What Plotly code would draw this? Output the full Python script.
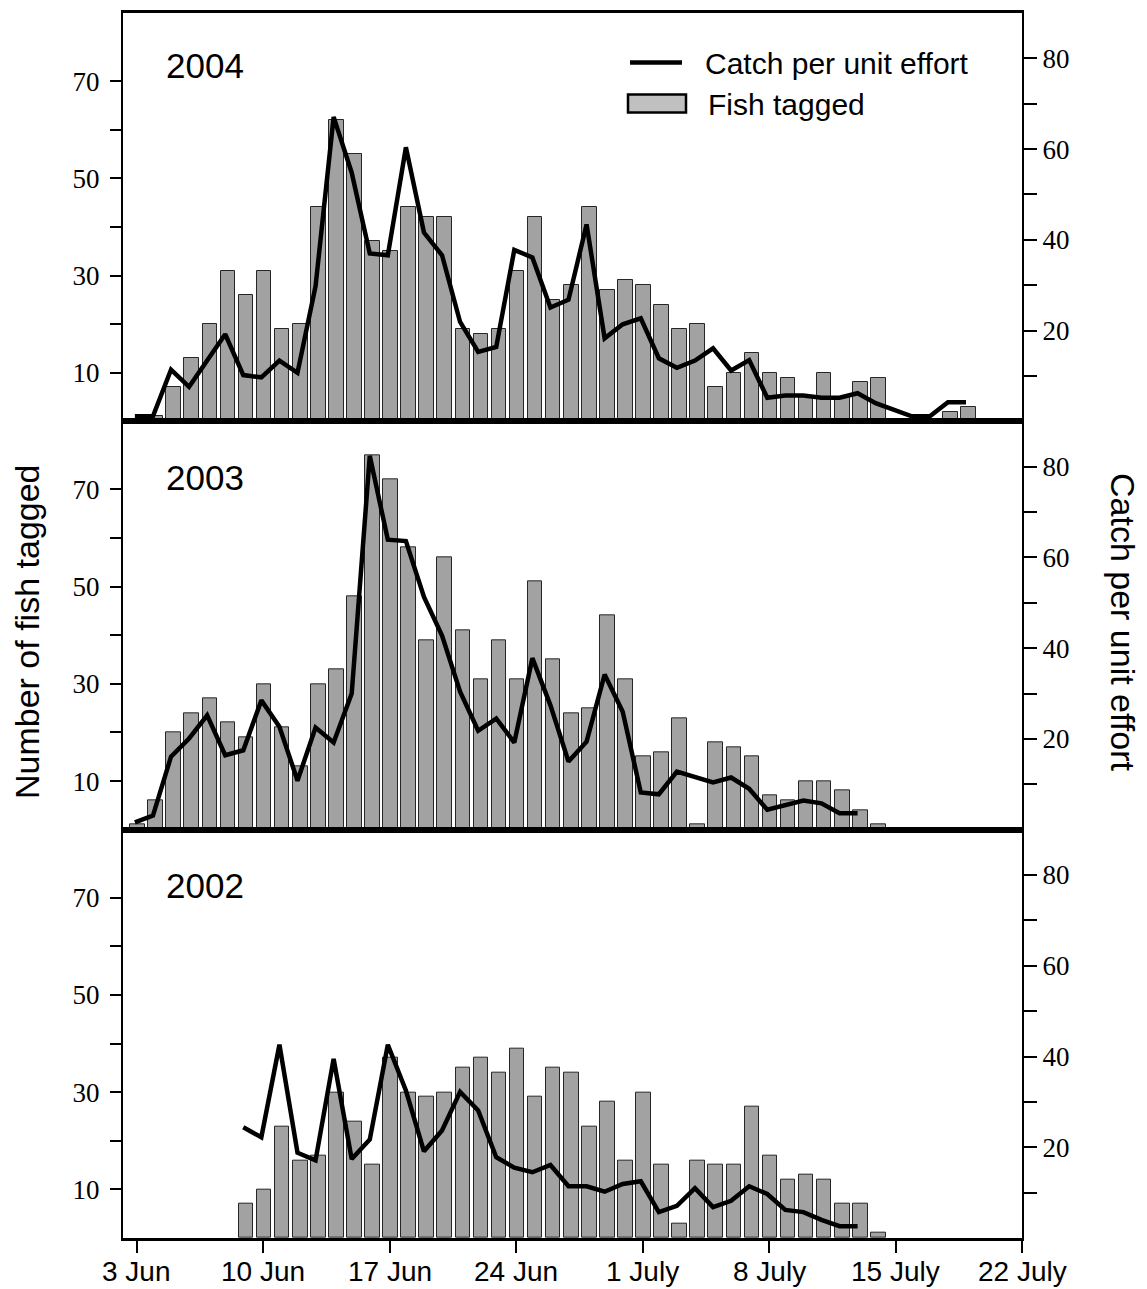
import numpy as np
import pandas as pd
import plotly.graph_objects as go
from plotly.subplots import make_subplots

# ---------------- data ----------------
years = [2004, 2003, 2002]
tick_labels = ["3 Jun", "10 Jun", "17 Jun", "24 Jun", "1 July", "8 July", "15 July", "22 July"]
tick_dates = ["06-03", "06-10", "06-17", "06-24", "07-01", "07-08", "07-15", "07-22"]
season_start = "06-03"

# first day of each record (month-day)
start_2004 = "06-03"
start_2003 = "06-03"
start_2002 = "06-09"

tagged_2004 = [0, 1, 7, 13, 20, 31, 26, 31, 19, 20, 44, 62, 55, 37, 35, 44, 42, 42, 19, 18,
               19, 31, 42, 25, 28, 44, 27, 29, 28, 24, 19, 20, 7, 10, 14, 10, 9, 5, 10, 5,
               8, 9, 0, 0, 0, 2, 3]
cpue_2004 = [1.1, 1.1, 11.4, 7.6, 13.4, 19.2, 10.2, 9.7, 13.4, 10.7, 29.8, 67.1, 54.8, 37.0,
             36.6, 60.4, 41.6, 36.6, 21.9, 15.3, 16.4, 37.8, 36.1, 25.1, 26.8, 43.4, 18.3,
             21.4, 22.7, 13.9, 11.8, 13.4, 16.1, 11.2, 13.5, 5.2, 5.7, 5.7, 5.2, 5.2, 6.2,
             4.0, None, 1.1, 1.1, 4.2, 4.2]

tagged_2003 = [1, 6, 20, 24, 27, 22, 19, 30, 21, 13, 30, 33, 48, 77, 72, 58, 39, 56, 41, 31,
               39, 31, 51, 35, 24, 25, 44, 31, 15, 16, 23, 1, 18, 17, 15, 7, 6, 10, 10, 8,
               4, 1]
cpue_2003 = [1.6, 3.1, 16.1, 20.1, 25.2, 16.4, 17.5, 28.5, 22.7, 10.8, 22.5, 19.2, 30.0,
             82.4, 63.9, 63.6, 51.3, 42.8, 30.4, 21.8, 24.5, 19.2, 37.8, 27.4, 15.0, 19.4,
             34.2, 26.0, 8.2, 7.8, 12.8, 11.7, 10.4, 11.5, 9.0, 4.4, 5.5, 6.4, 5.8, 3.6, 3.6]

tagged_2002 = [7, 10, 23, 16, 17, 30, 24, 15, 37, 30, 29, 30, 35, 37, 34, 39, 29, 35, 34, 23,
               28, 16, 30, 15, 3, 16, 15, 15, 27, 17, 12, 13, 12, 7, 7, 1]
cpue_2002 = [24.4, 22.2, 42.6, 18.8, 17.1, 39.5, 17.4, 21.7, 42.6, 32.5, 19.1, 23.7, 32.2,
             28.1, 17.8, 15.5, 14.5, 16.1, 11.4, 11.4, 10.2, 11.9, 12.5, 5.7, 7.1, 11.0,
             6.8, 8.2, 11.4, 9.7, 6.2, 5.7, 4.0, 2.6, 2.6]

series = {
    2004: (start_2004, tagged_2004, cpue_2004),
    2003: (start_2003, tagged_2003, cpue_2003),
    2002: (start_2002, tagged_2002, cpue_2002),
}

# ---------------- helpers ----------------
def day_offset(md):
    ref = pd.Timestamp("2000-" + season_start)
    return (pd.Timestamp("2000-" + md) - ref).days

tick_vals = [day_offset(d) for d in tick_dates]

BAR_SHIFT = 0.05
LINE_SHIFT = -0.1

W, H = 1147, 1289
L, R, T, B = 123, 125, 13, 51
PW, PH = W - L - R, H - T - B


def px_x(px):
    return (px - L) / PW


def px_y(py):
    return (H - B - py) / PH


fig = make_subplots(rows=3, cols=1, shared_xaxes=True, vertical_spacing=0,
                    specs=[[{"secondary_y": True}]] * 3)

for i, yr in enumerate(years):
    row = i + 1
    start, tagged, cpue = series[yr]
    s = day_offset(start)
    xb = np.arange(len(tagged)) + s + BAR_SHIFT
    xl = np.arange(len(cpue)) + s + LINE_SHIFT
    fig.add_trace(go.Bar(x=xb, y=tagged, width=0.81, name="Fish tagged",
                         marker=dict(color="#a2a2a2", line=dict(color="#262626", width=1))),
                  row=row, col=1, secondary_y=False)
    fig.add_trace(go.Scatter(x=xl, y=cpue, mode="lines", name="Catch per unit effort",
                             connectgaps=True,
                             line=dict(color="black", width=4.5)),
                  row=row, col=1, secondary_y=True)

sans = "Liberation Sans, Arial, sans-serif"
serif = "Liberation Serif, Times New Roman, serif"

fig.update_xaxes(domain=[0, 1], range=[-0.758, 49.0], showline=True, linewidth=3,
                 linecolor="black", mirror=True, showgrid=False, zeroline=False, ticks="",
                 showticklabels=False, automargin=False)
fig.update_xaxes(row=3, col=1, ticks="outside", ticklen=12, tickwidth=2,
                 tickcolor="black", tickvals=tick_vals, showticklabels=False)

left_vals = [10, 20, 30, 40, 50, 60, 70]
left_text = [str(v) if v % 20 == 10 else "" for v in left_vals]
right_vals = [10, 20, 30, 40, 50, 60, 70, 80]
right_text = [str(v) if v % 20 == 0 else "" for v in right_vals]

for row in (1, 2, 3):
    fig.update_yaxes(row=row, col=1, secondary_y=False, range=[0, 84], automargin=False,
                     showline=True, linewidth=2, linecolor="black", showgrid=False,
                     zeroline=False, ticks="outside", ticklen=11, tickwidth=2,
                     tickcolor="black", tickvals=left_vals, ticktext=left_text,
                     ticklabelstandoff=5,
                     tickfont=dict(family=serif, size=27, color="black"))
    fig.update_yaxes(row=row, col=1, secondary_y=True, range=[0, 90], automargin=False,
                     showline=True, linewidth=2, linecolor="black", showgrid=False,
                     zeroline=False, ticks="outside", ticklen=13, tickwidth=2,
                     tickcolor="black", tickvals=right_vals, ticktext=right_text,
                     tickfont=dict(family=serif, size=27, color="black"))

annotations = []
# x tick labels (bottom axis)
for tv, tl in zip(tick_vals, tick_labels):
    annotations.append(dict(text=tl, xref="x3", yref="paper", x=tv, y=px_y(1272),
                            xanchor="center", yanchor="middle", showarrow=False,
                            font=dict(family=sans, size=28, color="black")))
# year labels
for yr, yc in zip(years, [66, 477, 885]):
    annotations.append(dict(text=str(yr), xref="paper", yref="paper", x=px_x(164), y=px_y(yc),
                            xanchor="left", yanchor="middle", showarrow=False,
                            font=dict(family=sans, size=35, color="black")))
# axis titles
annotations.append(dict(text="Number of fish tagged", xref="paper", yref="paper",
                        x=px_x(27), y=px_y(632), textangle=-90, showarrow=False,
                        xanchor="center", yanchor="middle",
                        font=dict(family=sans, size=34, color="black")))
annotations.append(dict(text="Catch per unit effort", xref="paper", yref="paper",
                        x=px_x(1123), y=px_y(622), textangle=90, showarrow=False,
                        xanchor="center", yanchor="middle",
                        font=dict(family=sans, size=34, color="black")))
# legend texts
annotations.append(dict(text="Catch per unit effort", xref="paper", yref="paper",
                        x=px_x(703), y=px_y(63), xanchor="left", yanchor="middle",
                        showarrow=False, font=dict(family=sans, size=30, color="black")))
annotations.append(dict(text="Fish tagged", xref="paper", yref="paper",
                        x=px_x(706), y=px_y(104), xanchor="left", yanchor="middle",
                        showarrow=False, font=dict(family=sans, size=30, color="black")))

shapes = [
    dict(type="line", xref="paper", yref="paper", x0=px_x(630), x1=px_x(682),
         y0=px_y(62.5), y1=px_y(62.5), line=dict(color="black", width=4.5)),
    dict(type="rect", xref="paper", yref="paper", x0=px_x(628), x1=px_x(686),
         y0=px_y(94.5), y1=px_y(112.5), fillcolor="#c0c0c0",
         line=dict(color="black", width=2.5)),
]

fig.update_layout(width=W, height=H, margin=dict(l=L, r=R, t=T, b=B, autoexpand=False),
                  plot_bgcolor="white", paper_bgcolor="white", showlegend=False,
                  font=dict(family=sans, color="black"),
                  annotations=annotations, shapes=shapes, bargap=0)

fig.write_html("out.html")
